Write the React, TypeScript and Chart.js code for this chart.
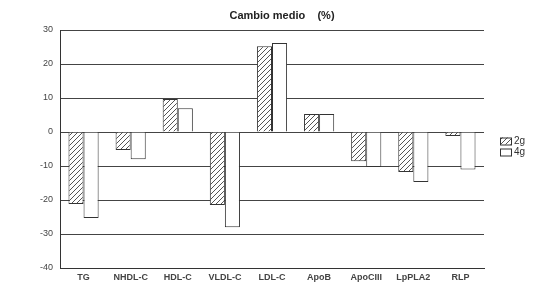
import React, { useEffect, useRef } from "react";
import { Chart, registerables } from "chart.js";

Chart.register(...registerables);

const categories = ["TG", "NHDL-C", "HDL-C", "VLDL-C", "LDL-C", "ApoB", "ApoCIII", "LpPLA2", "RLP"];
const series2g = [-21.2, -5.3, 9.7, -21.5, 25.2, 5.3, -8.6, -11.8, -1.2];
const series4g = [-25.3, -8.0, 7.0, -28.0, 26.2, 5.3, -10.3, -14.7, -11.0];
const seriesLabels = ["2g", "4g"];
const yTicks = { min: -40, max: 30, step: 10 };
const titleText = "Cambio medio    (%)";

const FONT = "'Liberation Sans', Arial, sans-serif";

function makeHatch(): CanvasPattern | string {
  const c = document.createElement("canvas");
  c.width = 5;
  c.height = 5;
  const ctx = c.getContext("2d");
  if (!ctx) return "#ccc";
  ctx.fillStyle = "#ffffff";
  ctx.fillRect(0, 0, 5, 5);
  ctx.strokeStyle = "#555";
  ctx.lineWidth = 1;
  ctx.beginPath();
  ctx.moveTo(-1, 6);
  ctx.lineTo(6, -1);
  ctx.moveTo(-1, 1);
  ctx.lineTo(1, -1);
  ctx.moveTo(4, 6);
  ctx.lineTo(6, 4);
  ctx.stroke();
  const p = ctx.createPattern(c, "repeat");
  return p || "#ccc";
}

const titleLegendPlugin = {
  id: "titleLegend",
  afterDraw(chart: any) {
    const ctx = chart.ctx;
    const area = chart.chartArea;
    ctx.save();
    // title
    ctx.fillStyle = "#222";
    ctx.font = `bold 11px ${FONT}`;
    ctx.textAlign = "center";
    ctx.textBaseline = "middle";
    ctx.fillText(titleText, area.left + (area.right - area.left) / 2 + 10, 16);
    // legend
    const lx = area.right + 16;
    const cy = (area.top + area.bottom) / 2;
    ctx.font = `10px ${FONT}`;
    ctx.textAlign = "left";
    chart.data.datasets.forEach((ds: any, i: number) => {
      const y = cy - 8 + i * 11;
      ctx.fillStyle = ds.backgroundColor;
      ctx.fillRect(lx, y - 3.5, 11, 7);
      ctx.strokeStyle = "#333";
      ctx.lineWidth = 1;
      ctx.strokeRect(lx + 0.5, y - 3, 11, 7);
      ctx.fillStyle = "#333";
      ctx.fillText(ds.label, lx + 14, y);
    });
    ctx.restore();
  },
};

export default function App() {
  const ref = useRef<HTMLCanvasElement>(null);
  useEffect(() => {
    if (!ref.current) return;
    const hatch = makeHatch();
    const chart = new Chart(ref.current, {
      type: "bar",
      data: {
        labels: categories,
        datasets: [
          {
            label: seriesLabels[0],
            data: series2g,
            backgroundColor: hatch as any,
            borderColor: "#333",
            borderWidth: 1,
            barPercentage: 1,
            categoryPercentage: 0.64,
          },
          {
            label: seriesLabels[1],
            data: series4g,
            backgroundColor: "#ffffff",
            borderColor: "#333",
            borderWidth: 1,
            barPercentage: 1,
            categoryPercentage: 0.64,
          },
        ],
      },
      options: {
        animation: false,
        responsive: false,
        devicePixelRatio: 1,
        layout: { padding: { top: 30, right: 75, bottom: 0, left: 0 } },
        plugins: {
          legend: { display: false },
          title: { display: false },
          tooltip: { enabled: false },
        },
        scales: {
          x: {
            grid: { display: false, drawTicks: false },
            border: { display: true, color: "#333", width: 1 },
            ticks: { color: "#444", font: { family: FONT, size: 9, weight: "bold" }, padding: 4, maxRotation: 0 },
            afterFit: (s: any) => {
              s.height = 18;
            },
          },
          y: {
            min: yTicks.min,
            max: yTicks.max,
            ticks: { stepSize: yTicks.step, color: "#444", font: { family: FONT, size: 9 }, padding: 7 },
            grid: { color: "#444", lineWidth: 1, drawTicks: false },
            border: { display: true, color: "#333", width: 1 },
            afterFit: (s: any) => {
              s.width = 60;
            },
          },
        },
      },
      plugins: [titleLegendPlugin],
    });
    return () => chart.destroy();
  }, []);
  return (
    <div style={{ position: "absolute", left: 0, top: 0, width: 559, height: 286, background: "#fff" }}>
      <canvas ref={ref} width={559} height={286} />
    </div>
  );
}
